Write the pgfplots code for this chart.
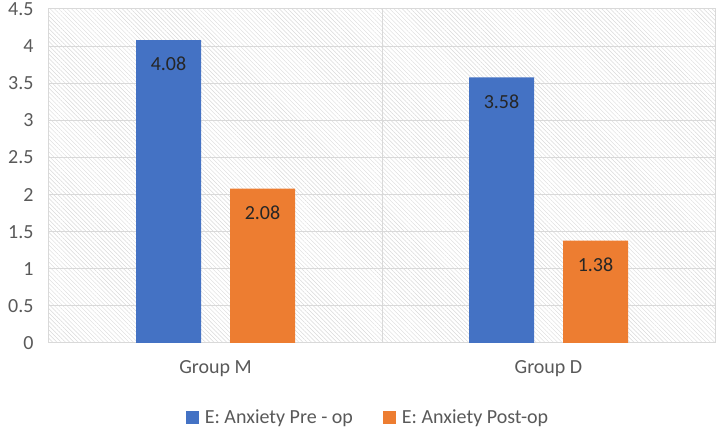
\documentclass[border=0pt]{standalone}
\usepackage{fontspec}
\setmainfont{Carlito}
\usepackage{pgfplots}
\pgfplotsset{compat=1.18}
\usetikzlibrary{patterns.meta}
\definecolor{xblue}{HTML}{4472C4}
\definecolor{xorange}{HTML}{ED7D31}
\definecolor{tickgray}{HTML}{595959}
\definecolor{gridgray}{HTML}{D9D9D9}
\newcommand{\cfont}{\fontsize{20}{24}\selectfont}
\begin{document}
\begin{tikzpicture}
\useasboundingbox (0,0) rectangle (718pt,438pt);
\begin{axis}[
  at={(49pt,95pt)}, anchor=south west,
  width=666pt, height=334pt, scale only axis,
  ybar=29pt, bar width=65pt,
  xmin=-0.5, xmax=1.5, ymin=0, ymax=4.5,
  xtick={0,1}, xticklabels={Group M, Group D},
  minor xtick={0.5},
  ytick={0,0.5,1,1.5,2,2.5,3,3.5,4,4.5},
  /pgf/number format/assume math mode=true,
  major tick length=0pt, minor tick length=0pt,
  axis background/.style={pattern={Lines[angle=-45,distance=3pt,line width=0.45pt]}, pattern color=gridgray},
  axis line style={draw=gridgray, line width=1pt},
  ymajorgrids, xminorgrids,
  major grid style={draw=gridgray, line width=1pt},
  minor grid style={draw=gridgray, line width=1pt},
  tick label style={font=\cfont, text=tickgray},
  yticklabel style={xshift=-12pt},
  xticklabel style={yshift=-14pt},
  nodes near coords,
  nodes near coords style={anchor=center, yshift=-24pt, font=\cfont, text=black!85,
    /pgf/number format/.cd, fixed, precision=2, fixed zerofill, assume math mode=true},
  legend style={at={(0.479,-0.2216)}, anchor=center, draw=none, fill=none,
    legend columns=2, font=\cfont, text=tickgray,
    /tikz/every even column/.append style={column sep=28pt}},
  legend image code/.code={\fill[#1] (0pt,-6.5pt) rectangle (13pt,6.5pt); \path (17pt,0pt);},
]
\addplot[fill=xblue, draw=none] coordinates {(0,4.08) (1,3.58)};
\addplot[fill=xorange, draw=none] coordinates {(0,2.08) (1,1.38)};
\legend{E: Anxiety Pre - op, E: Anxiety Post-op}
\end{axis}
\end{tikzpicture}
\end{document}
